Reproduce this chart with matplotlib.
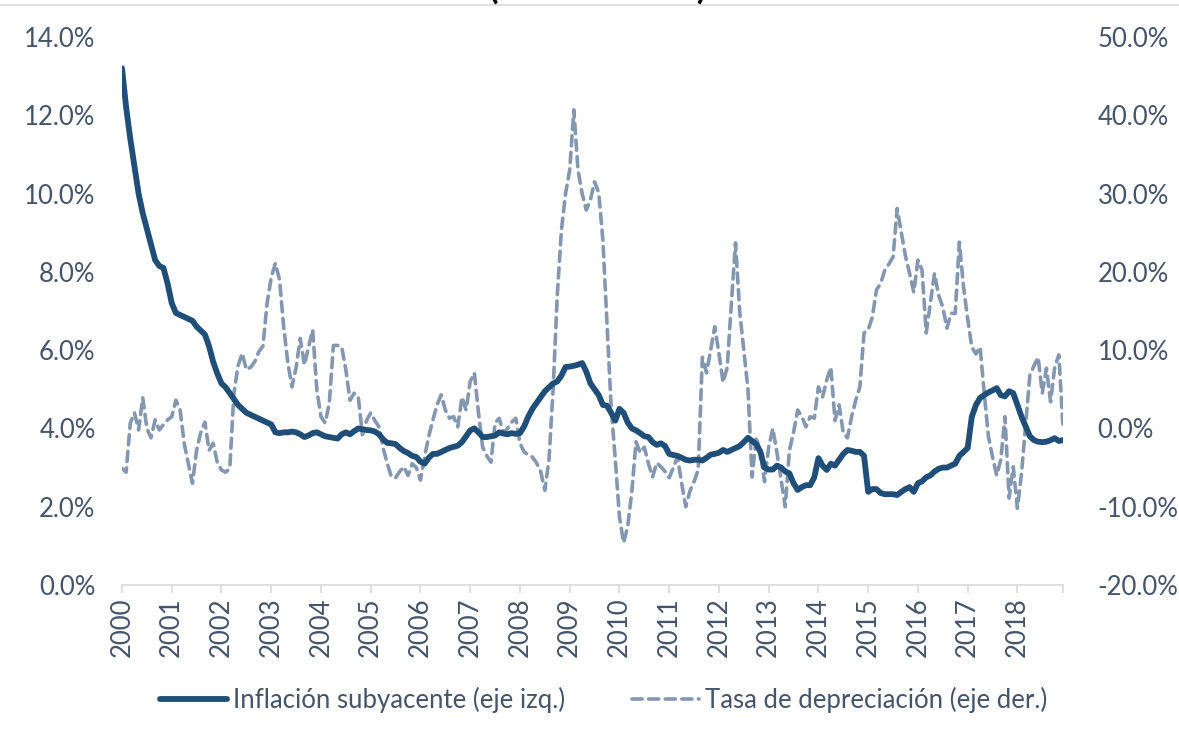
import numpy as np
import pandas as pd
import matplotlib
matplotlib.use("Agg")
import matplotlib.pyplot as plt
from matplotlib.ticker import FuncFormatter, FixedLocator

plt.rcParams['font.family'] = ['Lato', 'DejaVu Sans']

# monthly data, Jan 2000 - Dec 2018
years = list(range(2000, 2019))

# core inflation, % (left axis)
inflacion = [
    13.2, 12.2, 11.4, 10.7, 10.0, 9.5, 9.1, 8.7, 8.3, 8.15, 8.1, 7.7,      # 2000
    7.2, 6.95, 6.9, 6.85, 6.8, 6.75, 6.6, 6.5, 6.4, 6.1, 5.7, 5.4,         # 2001
    5.15, 5.05, 4.9, 4.75, 4.6, 4.5, 4.4, 4.35, 4.3, 4.25, 4.2, 4.15,      # 2002
    4.1, 3.9, 3.88, 3.9, 3.9, 3.92, 3.9, 3.85, 3.78, 3.82, 3.88, 3.9,      # 2003
    3.85, 3.8, 3.78, 3.76, 3.74, 3.85, 3.9, 3.85, 3.93, 4.0, 3.98, 3.96,   # 2004
    3.95, 3.92, 3.85, 3.72, 3.63, 3.62, 3.6, 3.5, 3.42, 3.37, 3.3, 3.27,   # 2005
    3.15, 3.1, 3.25, 3.35, 3.35, 3.4, 3.45, 3.5, 3.53, 3.56, 3.65, 3.8,    # 2006
    3.95, 4.0, 3.9, 3.78, 3.78, 3.8, 3.82, 3.9, 3.87, 3.85, 3.88, 3.86,    # 2007
    3.88, 4.05, 4.3, 4.5, 4.65, 4.8, 4.95, 5.05, 5.15, 5.2, 5.35, 5.57,    # 2008
    5.58, 5.6, 5.63, 5.67, 5.45, 5.15, 5.0, 4.85, 4.6, 4.58, 4.4, 4.2,     # 2009
    4.5, 4.4, 4.15, 4.0, 3.95, 3.88, 3.8, 3.78, 3.65, 3.58, 3.62, 3.55,    # 2010
    3.35, 3.32, 3.3, 3.25, 3.2, 3.18, 3.2, 3.2, 3.18, 3.25, 3.33, 3.35,    # 2011
    3.38, 3.45, 3.4, 3.45, 3.5, 3.55, 3.65, 3.76, 3.68, 3.6, 3.4, 3.0,     # 2012
    2.95, 2.95, 3.05, 3.0, 2.9, 2.85, 2.6, 2.43, 2.5, 2.55, 2.55, 2.75,    # 2013
    3.24, 3.05, 2.94, 3.1, 3.05, 3.2, 3.35, 3.45, 3.43, 3.4, 3.4, 3.3,     # 2014
    2.38, 2.45, 2.45, 2.35, 2.32, 2.32, 2.32, 2.3, 2.38, 2.45, 2.5, 2.38,  # 2015
    2.6, 2.65, 2.75, 2.8, 2.9, 2.97, 3.0, 3.0, 3.05, 3.1, 3.3, 3.4,        # 2016
    3.5, 4.3, 4.6, 4.78, 4.85, 4.92, 4.97, 5.03, 4.85, 4.82, 4.95, 4.9,    # 2017
    4.6, 4.3, 4.05, 3.8, 3.7, 3.66, 3.65, 3.66, 3.7, 3.75, 3.68, 3.7,      # 2018
]

# depreciation rate, % (right axis)
depreciacion = [
    -5.1, -5.6, 0.7, 2.0, -0.2, 3.9, 0.0, -1.2, 1.1, -0.2, 0.5, 1.1,          # 2000
    1.5, 3.6, 2.4, -1.9, -4.5, -7.0, -2.8, -0.5, 0.8, -2.8, -1.9, -4.4,       # 2001
    -5.3, -5.6, -5.1, 4.5, 8.0, 9.6, 7.5, 7.8, 8.5, 9.8, 10.5, 16.0,         # 2002
    19.3, 21.1, 19.0, 13.0, 8.4, 5.3, 7.8, 11.5, 8.1, 10.4, 12.6, 4.9,       # 2003
    1.5, 0.7, 3.2, 10.6, 10.6, 10.4, 7.5, 3.6, 4.5, 4.0, -0.8, 1.0,          # 2004
    2.0, 1.0, 0.2, -2.5, -4.5, -6.2, -6.3, -5.5, -4.9, -6.0, -4.5, -5.0,     # 2005
    -6.6, -3.6, -1.0, 1.1, 3.0, 4.3, 2.35, 1.3, 1.5, 0.2, 4.0, 2.35,         # 2006
    6.0, 7.1, 2.0, -2.4, -3.5, -4.3, 0.7, 1.3, -0.6, 0.0, 0.8, 1.3,          # 2007
    -1.9, -3.0, -3.4, -3.65, -4.4, -5.5, -7.9, -4.0, 5.0, 17.0, 25.3, 30.0,  # 2008
    33.0, 40.7, 33.0, 30.0, 27.9, 29.2, 31.5, 30.1, 24.1, 13.5, 2.7, -4.0,   # 2009
    -11.3, -14.6, -12.5, -8.0, -1.7, -3.1, -2.4, -4.5, -6.2, -4.4, -4.9, -5.5,  # 2010
    -6.3, -5.0, -3.65, -7.0, -10.0, -8.0, -6.8, -5.3, 9.1, 7.1, 10.0, 13.0,  # 2011
    9.6, 5.9, 7.8, 16.0, 23.7, 15.0, 10.0, 5.0, -6.2, -1.1, -3.1, -6.8,      # 2012
    -2.4, 0.0, -3.1, -6.6, -10.0, -2.8, -0.5, 2.35, 1.5, 0.2, 1.5, 1.3,      # 2013
    5.3, 4.0, 6.2, 7.8, 1.0, 3.0, -0.6, -1.2, 1.5, 3.6, 5.3, 12.2,           # 2014
    12.6, 14.2, 17.7, 18.5, 20.2, 21.0, 21.9, 28.1, 25.0, 22.0, 19.8, 17.4,  # 2015
    21.5, 20.2, 12.2, 16.0, 19.8, 17.0, 15.5, 12.8, 14.7, 14.7, 23.8, 18.1,  # 2016
    14.0, 10.4, 9.5, 10.4, 4.5, -1.0, -3.65, -6.0, -4.0, 1.5, -8.9, -4.9,    # 2017
    -10.2, -5.7, 0.5, 6.8, 8.0, 9.1, 4.5, 7.7, 3.4, 7.8, 9.4, 0.2,           # 2018
]

fechas = pd.date_range("2000-01-01", periods=len(inflacion), freq="MS")
x = np.arange(len(fechas))

azul = "#1F4E79"
gris_azul = "#8497B0"
texto = "#44546A"
fs = 18.5

fig = plt.figure(figsize=(11.79, 7.36), dpi=100)
ax = fig.add_axes([122 / 1179, 1 - 585 / 736, (1063 - 122) / 1179, (585 - 37) / 736])
ax2 = ax.twinx()

l1, = ax.plot(x, inflacion, color=azul, lw=4.2, solid_capstyle="round",
              solid_joinstyle="round", zorder=3)
l2, = ax2.plot(x, depreciacion, color=gris_azul, lw=2.6, dashes=(2.8, 1.8),
               dash_capstyle="round", zorder=2)
ax.set_zorder(ax2.get_zorder() + 1)
ax.patch.set_visible(False)

ax.set_xlim(0, len(x) - 1)
ax.set_ylim(0, 14)
ax.set_yticks(np.arange(0, 15, 2))
ax.yaxis.set_major_formatter(FuncFormatter(lambda v, p: f"{v:.1f}%"))
ax2.set_ylim(-20, 50)
ax2.set_yticks(np.arange(-20, 51, 10))
ax2.yaxis.set_major_formatter(FuncFormatter(lambda v, p: f"{v:.1f}%"))

year_pos = [fechas.get_loc(pd.Timestamp(f"{y}-01-01")) for y in years]
ax.xaxis.set_major_locator(FixedLocator(year_pos + [len(x) - 1]))
ax.set_xticklabels([str(y) for y in years] + [""], rotation=90)

for a in (ax, ax2):
    for s in a.spines.values():
        s.set_visible(False)
ax.spines["bottom"].set_visible(True)
ax.spines["bottom"].set_color("#D9D9D9")
ax.spines["bottom"].set_linewidth(1.2)

ax.tick_params(axis="x", length=6, width=1.2, color="#D9D9D9", labelsize=fs,
               labelcolor=texto, pad=3)
ax.tick_params(axis="y", length=0, labelsize=fs, labelcolor=texto, pad=19)
ax2.tick_params(axis="y", length=0, labelsize=fs, labelcolor=texto, pad=25)

fig.legend([l1, l2],
           ["Inflación subyacente (eje izq.)", "Tasa de depreciación (eje der.)"],
           loc="center", bbox_to_anchor=(0.512, 1 - 700 / 736), ncol=2,
           frameon=False, fontsize=fs, labelcolor=texto, handlelength=2.6,
           handletextpad=0.25, columnspacing=2.6)

# cropped title and chart border at the top edge
fig.text(0.507, 1 + 1 / 736, "(2000 – 2018)", ha="center", va="baseline",
         fontsize=25, fontweight="bold", color="black")
fig.add_artist(plt.Line2D([0, 1], [1 - 5 / 736, 1 - 5 / 736], color="#D9D9D9", lw=1.2))

fig.savefig("out.png", dpi=100)
